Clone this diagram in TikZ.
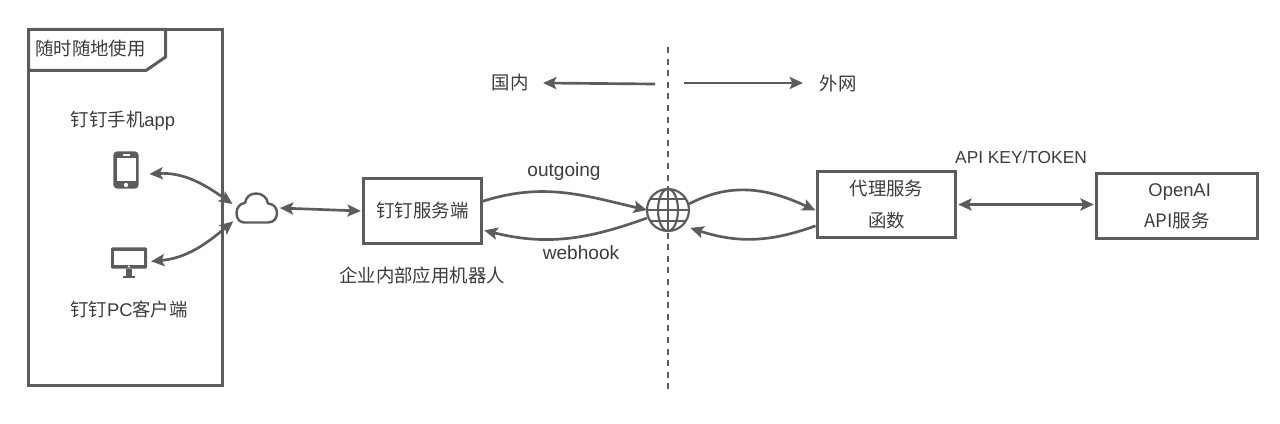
\documentclass[tikz,border=0pt]{standalone}
\usepackage{fontspec}
\setmainfont{Liberation Sans}
\newfontfamily\cjk{Noto Sans CJK SC}
\usepackage{xcolor}
\usetikzlibrary{arrows.meta, positioning}
\definecolor{linegray}{HTML}{5C5C5C}
\definecolor{textgray}{HTML}{3C3C3C}

\begin{document}
\begin{tikzpicture}[x=0.75pt, y=-0.75pt,
    box/.style={draw=linegray, line width=2.25pt, fill=white, inner sep=0pt, outer sep=0pt, align=center, text=textgray, font=\fontsize{13.8}{23.5}\selectfont},
    label/.style={text=textgray, inner sep=0pt, font=\fontsize{13.8}{15}\selectfont},
    arrlabel/.style={label, font=\fontsize{14.3}{15}\selectfont},
    icon/.style={inner sep=0pt, outer sep=0pt},
    arr/.style={-{Stealth[length=10pt,width=9pt,inset=2pt]}, linegray, line width=2pt},
    biarr/.style={{Stealth[length=10pt,width=9pt,inset=2pt]}-{Stealth[length=10pt,width=9pt,inset=2pt]}, linegray, line width=2pt}
  ]
  \useasboundingbox (0,0) rectangle (1280,424);
  \fill[white] (0,0) rectangle (1280,424);
  % Left frame with its tab
  \node[box, minimum width=145.5pt, minimum height=267pt] (frame) at (125.5,207.5) {};
  \draw[linegray, line width=2.25pt, fill=white] (frame.north west) -- (165.5,29.5) -- (165.5,57) -- (146,70.5) -- (28.5,70.5) -- cycle;
  \node[label, anchor=west] (tab) at (35,49) {\cjk 随时随地使用};
  \node[label] (applabel) at (123,121) {{\cjk 钉钉手机}app};
  \node[label] (pclabel) at (129,309) {{\cjk 钉钉}PC{\cjk 客户端}};
  % Phone
  \node[icon, minimum width=19pt, minimum height=28pt] (phone) at (126,170) {};
  \fill[linegray, rounded corners=3pt] (phone.south west) rectangle (phone.north east);
  \fill[white] (117,158) rectangle (135.5,181);
  \fill[white] (126,185) circle (1.6pt);
  \fill[white] (123,154.5) rectangle (130,156);
  % PC
  \node[icon, minimum width=27pt, minimum height=16pt] (pc) at (129,258) {};
  \fill[linegray, rounded corners=1pt] (pc.south west) rectangle (pc.north east);
  \fill[white] (114,251) rectangle (144,265);
  \fill[white] (129,266.5) circle (0.9pt);
  \fill[linegray] (126,269) rectangle (132,276);
  \fill[linegray] (123,276) rectangle (135,278);
  % Cloud
  \node[icon, minimum width=31pt, minimum height=22.5pt] (cloud) at (256.5,208) {};
  \draw[linegray, line width=1.8pt, line join=round] (244,222.5) -- (268,222.5)
    .. controls (274,222.5) and (277,218) .. (277,213)
    .. controls (277,208) and (274,204) .. (268,203.5)
    .. controls (267,197) and (262,193.5) .. (256,193.5)
    .. controls (250,193.5) and (246,197) .. (245,203)
    .. controls (240,203) and (236.5,208) .. (236.5,213)
    .. controls (236.5,219) and (240,222.5) .. (244,222.5) -- cycle;
  % Boxes
  \node[box, minimum width=88.5pt, minimum height=48.75pt] (server) at (422.5,211) {\cjk 钉钉服务端};
  \node[label] (robot) at (422,275) {\cjk 企业内部应用机器人};
  \node[box, minimum width=103.5pt, minimum height=49.5pt] (proxy) at (886.5,204.5) {\cjk 代理服务\\\cjk 函数};
  \node[box, minimum width=120.75pt, minimum height=48.75pt] (openai) at (1177,206) {\hspace*{4pt}OpenAI\\\cjk API服务};
  % Border between the two networks
  \coordinate (bordertop) at (668,47);
  \coordinate (borderbottom) at (668,390);
  \draw[linegray, line width=2.2pt, dash pattern=on 4.5pt off 4.2pt] (bordertop) -- (borderbottom);
  % Globe
  \node[icon, circle, fill=white, minimum size=31.5pt] (globe) at (668,210) {};
  \draw[linegray, line width=1.6pt] (globe.center) circle (15.75pt);
  \draw[linegray, line width=1.6pt] (globe.center) ellipse (7.5pt and 15.75pt);
  \draw[linegray, line width=1.6pt] (globe.north) -- (globe.south);
  \draw[linegray, line width=1.6pt] (globe.west) -- (globe.east);
  \draw[linegray, line width=1.6pt] (650,199) -- (686,199);
  \draw[linegray, line width=1.6pt] (650,221) -- (686,221);
  % Top labels
  \node[label] (inside) at (510,83) {\cjk 国内};
  \node[label] (outside) at (838,83) {\cjk 外网};
  \coordinate (leftstart) at (655,84);
  \coordinate (rightstart) at (684,83);
  \draw[arr] (leftstart) -- (inside.east -| 543,84);
  \draw[arr] (rightstart) -- (outside.west -| 803,83);
  % Connectors
  \draw[biarr] ([shift={(8pt,-3pt)}]phone.east) to[out=3, in=145] ([xshift=-2.5pt, yshift=3pt]cloud.west);
  \draw[biarr] ([shift={(3pt,-2.5pt)}]pc.east) to[out=5, in=-140] ([xshift=-2pt, yshift=-10pt]cloud.west);
  \draw[biarr] ([xshift=2pt]cloud.east) -- ([xshift=-2pt]server.west);
  \draw[arr] ([yshift=7pt]server.east) to[out=18, in=167] (globe.west);
  \draw[arr] ([yshift=-6pt]globe.west) to[out=200, in=-14] ([xshift=2pt, yshift=-14.5pt]server.east);
  \draw[arr] ([yshift=4.5pt]globe.east) to[out=28, in=155] ([xshift=-1.5pt, yshift=-4.5pt]proxy.west);
  \draw[arr] ([xshift=-1.5pt, yshift=-16pt]proxy.west) to[out=200, in=-18] ([xshift=1pt, yshift=-13.5pt]globe.east);
  \draw[biarr] ([xshift=2pt]proxy.east) -- ([xshift=-2pt]proxy.east -| openai.west);
  % Connector labels
  \node[arrlabel] (outgoing) at (564,172) {outgoing};
  \node[arrlabel] (webhook) at (581,253) {webhook};
  \node[label, font=\fontsize{13}{15}\selectfont] (apikey) at (1021,157) {API KEY/TOKEN};
\end{tikzpicture}
\end{document}
